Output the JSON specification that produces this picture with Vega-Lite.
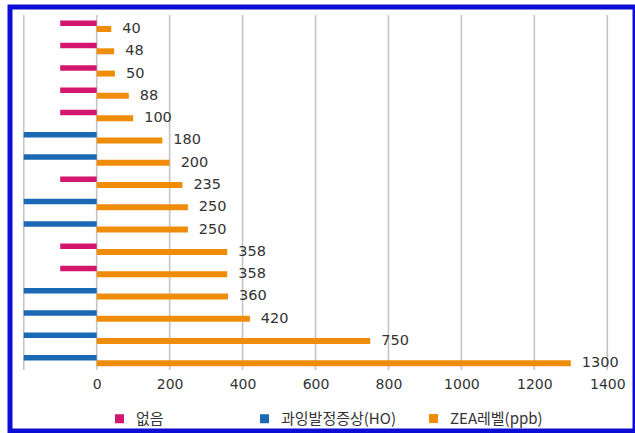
{
  "$schema": "https://vega.github.io/schema/vega-lite/v6.json",
  "width": 625,
  "height": 424,
  "autosize": {"type": "none"},
  "padding": {"left": 10, "top": 7, "right": 0, "bottom": 2},
  "background": "white",
  "config": {
    "view": {"stroke": "#0d0dd6", "strokeWidth": 5},
    "font": "Noto Sans CJK KR"
  },
  "datasets": {
    "samples": [
      {"row": 1, "zea": 40, "neg": -100, "symptom": "없음"},
      {"row": 2, "zea": 48, "neg": -100, "symptom": "없음"},
      {"row": 3, "zea": 50, "neg": -100, "symptom": "없음"},
      {"row": 4, "zea": 88, "neg": -100, "symptom": "없음"},
      {"row": 5, "zea": 100, "neg": -100, "symptom": "없음"},
      {"row": 6, "zea": 180, "neg": -200, "symptom": "과잉발정증상(HO)"},
      {"row": 7, "zea": 200, "neg": -200, "symptom": "과잉발정증상(HO)"},
      {"row": 8, "zea": 235, "neg": -100, "symptom": "없음"},
      {"row": 9, "zea": 250, "neg": -200, "symptom": "과잉발정증상(HO)"},
      {"row": 10, "zea": 250, "neg": -200, "symptom": "과잉발정증상(HO)"},
      {"row": 11, "zea": 358, "neg": -100, "symptom": "없음"},
      {"row": 12, "zea": 358, "neg": -100, "symptom": "없음"},
      {"row": 13, "zea": 360, "neg": -200, "symptom": "과잉발정증상(HO)"},
      {"row": 14, "zea": 420, "neg": -200, "symptom": "과잉발정증상(HO)"},
      {"row": 15, "zea": 750, "neg": -200, "symptom": "과잉발정증상(HO)"},
      {"row": 16, "zea": 1300, "neg": -200, "symptom": "과잉발정증상(HO)"}
    ],
    "grid": [
      {"g": -200}, {"g": 0}, {"g": 200}, {"g": 400}, {"g": 600},
      {"g": 800}, {"g": 1000}, {"g": 1200}, {"g": 1400}
    ]
  },
  "layer": [
    {
      "data": {"name": "grid"},
      "mark": {"type": "rule", "color": "#c4c4c4", "strokeWidth": 1.6},
      "encoding": {
        "x": {
          "field": "g", "type": "quantitative",
          "scale": {"domain": [-237.7, 1476], "nice": false, "zero": false, "padding": 0},
          "axis": {
            "values": [0, 200, 400, 600, 800, 1000, 1200, 1400], "format": "d",
            "title": null, "grid": false, "domain": false, "ticks": false,
            "labelPadding": 0, "offset": -54,
            "labelFont": "DejaVu Sans", "labelFontSize": 14, "labelColor": "#333"
          }
        },
        "y": {
          "datum": 0.372, "type": "quantitative",
          "scale": {"domain": [0.013, 19.035], "reverse": true, "nice": false, "zero": false, "padding": 0},
          "axis": null
        },
        "y2": {"datum": 16.3}
      }
    },
    {
      "data": {"name": "samples"},
      "mark": {"type": "bar", "orient": "horizontal", "size": 5.5, "yOffset": -5.7},
      "encoding": {
        "x": {"field": "neg", "type": "quantitative", "title": null},
        "y": {"field": "row", "type": "quantitative", "axis": null},
        "color": {
          "field": "symptom", "type": "nominal",
          "scale": {"domain": ["없음", "과잉발정증상(HO)"], "range": ["#d4166f", "#1b68b4"]},
          "legend": {
            "orient": "none", "legendX": 102, "legendY": 404, "direction": "horizontal",
            "title": null, "symbolType": "square", "symbolSize": 81, "symbolStrokeWidth": 0,
            "symbolOpacity": 1,
            "labelFont": "Noto Sans CJK KR", "labelFontSize": 15, "labelColor": "#333",
            "labelOffset": 9, "columnPadding": 93, "padding": 0
          }
        }
      }
    },
    {
      "data": {"name": "samples"},
      "mark": {"type": "bar", "orient": "horizontal", "size": 6},
      "encoding": {
        "x": {"field": "zea", "type": "quantitative", "title": null},
        "y": {"field": "row", "type": "quantitative", "axis": null},
        "color": {
          "datum": "ZEA레벨(ppb)",
          "scale": {"range": ["#ef8d0a"]},
          "legend": {
            "orient": "none", "legendX": 416, "legendY": 404, "direction": "horizontal",
            "title": null, "symbolType": "square", "symbolSize": 81, "symbolStrokeWidth": 0,
            "symbolOpacity": 1,
            "labelFont": "Noto Sans CJK KR", "labelFontSize": 15, "labelColor": "#333",
            "labelOffset": 9, "padding": 0
          }
        }
      }
    },
    {
      "data": {"name": "samples"},
      "mark": {"type": "text", "align": "left", "baseline": "middle", "dx": 11,
               "font": "DejaVu Sans", "fontSize": 14.5, "color": "#333"},
      "encoding": {
        "x": {"field": "zea", "type": "quantitative", "title": null},
        "y": {"field": "row", "type": "quantitative", "axis": null},
        "text": {"field": "zea", "type": "quantitative"}
      }
    }
  ],
  "resolve": {"scale": {"color": "independent"}, "legend": {"color": "independent"}}
}
